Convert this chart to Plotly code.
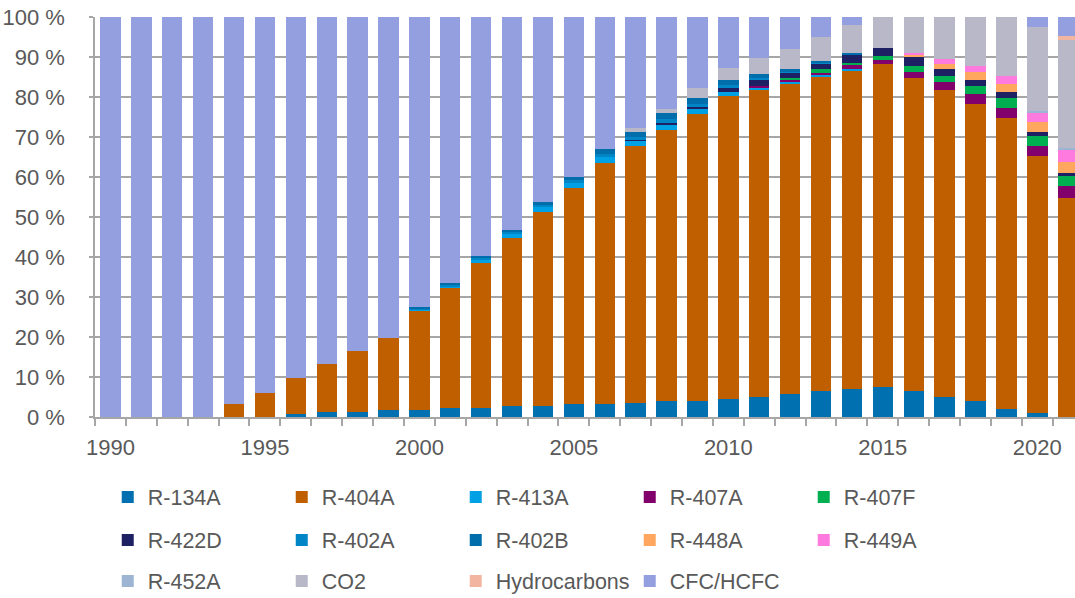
import plotly.graph_objects as go

years = list(range(1990, 2022))

r134a = [0, 0, 0, 0, 0, 0, 0.7, 1.2, 1.3, 1.7, 1.7, 2.2, 2.2, 2.7, 2.7, 3.2, 3.2, 3.6, 4.1, 4.1,
         4.6, 5.1, 5.7, 6.6, 7.1, 7.6, 6.6, 5.1, 4.1, 2.1, 1.1, 0]
r404a = [0, 0, 0, 0, 3.3, 6.1, 9.0, 12.0, 15.2, 18.0, 24.8, 30.0, 36.4, 42.0, 48.5, 54.0, 60.3, 64.2, 67.6, 71.6,
         75.6, 76.6, 77.5, 78.3, 79.6, 80.6, 78.1, 76.6, 74.1, 72.6, 64.1, 54.7]
r413a = [0, 0, 0, 0, 0, 0, 0, 0, 0, 0, 0.3, 0.5, 0.8, 1.0, 1.2, 1.3, 1.5, 1.2, 1.2, 1.2,
         1.0, 0.5, 0.5, 0.5, 0.2, 0, 0, 0, 0, 0, 0, 0]
r407a = [0] * 21 + [0.5, 0.7, 0.5, 1.2, 1.0, 1.5, 2.0, 2.5, 2.5, 2.5, 3.0]
r407f = [0] * 22 + [0.3, 1.0, 0.4, 1.0, 1.5, 1.5, 2.0, 2.5, 2.5, 2.5]
r422d = [0] * 17 + [0.2, 0.5, 0.5, 1.0, 1.5, 1.3, 1.5, 2.0, 2.0, 2.2, 1.7, 1.5, 1.5, 1.0, 0.7]
r402a = [0] * 10 + [0.2, 0.3, 0.4, 0.5, 0.6, 0.7, 0.8, 0.8, 1.2, 0.8, 0.8, 0.5, 0.3, 0.2, 0.1,
                    0, 0, 0, 0, 0, 0, 0]
r402b = [0] * 10 + [0.4, 0.4, 0.5, 0.5, 0.8, 0.8, 1.2, 1.2, 1.3, 1.5, 1.2, 1.0, 0.7, 0.3, 0.3,
                    0, 0, 0, 0, 0, 0, 0]
r448a = [0] * 26 + [0.5, 1.3, 2.0, 2.0, 2.5, 2.8]
r449a = [0] * 26 + [0.5, 1.2, 1.5, 2.0, 2.5, 3.0]
r452a = [0] * 30 + [0.3, 0.5]
co2 = [0] * 17 + [1.0, 1.2, 2.5, 3.0, 4.0, 5.0, 6.0, 7.1, 7.8, 9.1, 10.6, 12.3, 14.8, 21.0, 27.0]
hydrocarbons = [0] * 31 + [1.0]
cfc_hcfc = [100, 100, 100, 100, 96.7, 93.9, 90.3, 86.8, 83.5, 80.3, 72.6, 66.6, 59.7, 53.3, 46.2, 40.0,
            33.0, 27.8, 22.9, 17.8, 12.8, 10.3, 8.0, 5.1, 2.0, 0, 0, 0, 0, 0, 2.5, 4.8]

series = [
    ("R-134A", r134a, "#0070B0", "legend"),
    ("R-404A", r404a, "#C05F00", "legend"),
    ("R-413A", r413a, "#00A0E4", "legend"),
    ("R-407A", r407a, "#82006C", "legend"),
    ("R-407F", r407f, "#00B050", "legend"),
    ("R-422D", r422d, "#1E2064", "legend2"),
    ("R-402A", r402a, "#0086C6", "legend2"),
    ("R-402B", r402b, "#006EAA", "legend2"),
    ("R-448A", r448a, "#FFA75E", "legend2"),
    ("R-449A", r449a, "#FF7ADE", "legend2"),
    ("R-452A", r452a, "#9DB5D3", "legend3"),
    ("CO2", co2, "#B8B8C8", "legend3"),
    ("Hydrocarbons", hydrocarbons, "#F2B5A0", "legend3"),
    ("CFC/HCFC", cfc_hcfc, "#949FE0", "legend3"),
]

tick_years = [1990, 1995, 2000, 2005, 2010, 2015, 2020]
y_ticks = list(range(0, 101, 10))

fig = go.Figure()
for name, vals, color, lg in series:
    fig.add_trace(go.Bar(x=years, y=vals, name=name, marker=dict(color=color, line=dict(width=0)),
                         legend=lg))

FONT = dict(family="Liberation Sans, Arial, sans-serif", size=22, color="#595959")
LFONT = dict(family="Liberation Sans, Arial, sans-serif", size=21.5, color="#595959")
GRID = "#A6A6A6"

leg_common = dict(orientation="h", xanchor="left", x=0.013, yanchor="middle",
                  entrywidth=129, entrywidthmode="pixels", font=LFONT,
                  bgcolor="rgba(0,0,0,0)", itemclick=False, traceorder="normal")

fig.update_layout(
    width=1075, height=598,
    margin=dict(l=95, r=0, t=17, b=181, autoexpand=False),
    barmode="stack", bargap=0.34,
    plot_bgcolor="white", paper_bgcolor="white",
    font=FONT,
    legend=dict(y=-0.2, **leg_common),
    legend2=dict(y=-0.3075, **leg_common),
    legend3=dict(y=-0.41, **leg_common),
    xaxis=dict(range=[1989.5, 2021.22], tickmode="array", tickvals=tick_years,
               ticks="", showgrid=False, showline=True, linecolor=GRID, linewidth=1.5,
               ticklabelstandoff=10, tickfont=FONT, automargin=False,
               minor=dict(ticks="outside", tickmode="linear", tick0=1989.5, dtick=1,
                          ticklen=7, tickcolor=GRID, tickwidth=1.5, showgrid=False)),
    yaxis=dict(range=[0, 100], tickmode="array", tickvals=y_ticks,
               ticktext=[f"{v} %" for v in y_ticks],
               showgrid=True, gridcolor=GRID, gridwidth=1.5,
               showline=True, linecolor=GRID, linewidth=1.5,
               ticks="outside", ticklen=4, tickcolor=GRID, tickwidth=1.5,
               ticklabelstandoff=20, tickfont=FONT, zeroline=False, automargin=False),
)

fig.write_html("out.html", config={"displayModeBar": False},
               post_script="document.body.style.margin='0';document.body.style.overflow='hidden';")
